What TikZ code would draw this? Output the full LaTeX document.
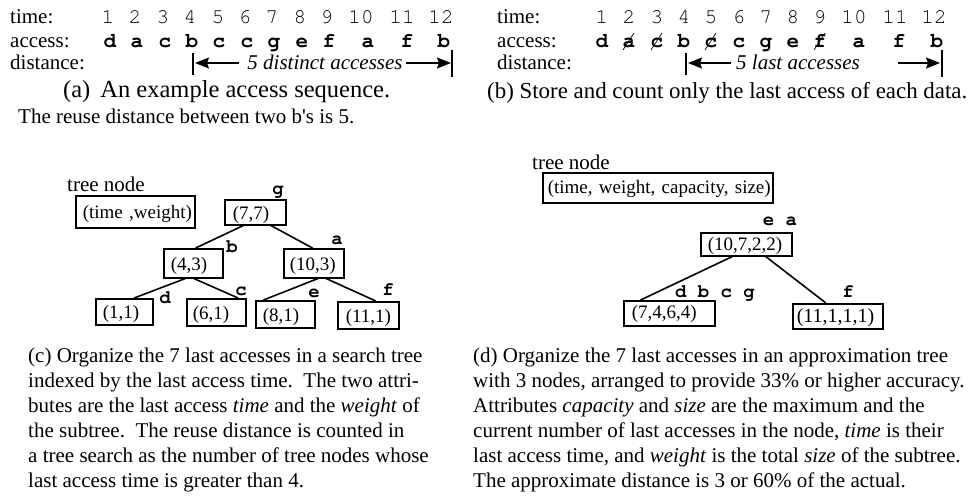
\documentclass[tikz,border=0pt]{standalone}
\usepackage{fontspec}
\setmainfont{Liberation Serif}
\newfontfamily\cur{TeX Gyre Cursor}
\usetikzlibrary{arrows.meta,calc}
\begin{document}
\begin{tikzpicture}[x=1pt,y=-1pt,
  lbl/.style={anchor=base west,inner sep=0pt,font=\fontsize{21}{25}\selectfont},
  dig/.style={anchor=base,inner sep=0pt,font=\cur\fontsize{21}{25}\selectfont},
  acc/.style={anchor=base,inner sep=0pt,font=\cur\bfseries\fontsize{21}{25}\selectfont},
  tlab/.style={anchor=base,inner sep=0pt,font=\cur\bfseries\fontsize{19}{22}\selectfont},
  tbox/.style={draw,line width=1.5pt,anchor=north west,align=left,inner xsep=0pt,inner ysep=0pt,font=\fontsize{19}{22}\selectfont},
  tedge/.style={line width=1.6pt},
  vbar/.style={line width=1.3pt},
  strk/.style={line width=0.7pt},
  darr/.style={line width=1.3pt,-{Stealth[length=14pt,width=11pt,inset=2pt]}},
  captxt/.style={anchor=base west,inner sep=0pt,font=\fontsize{21}{25}\selectfont},
  dtext/.style={anchor=base,inner sep=0pt,font=\itshape\fontsize{21}{25}\selectfont},
]
\useasboundingbox (0,0) rectangle (969,496);

% ---------- (a) ----------
\node[lbl] (timeA) at (10,23) {time:};
\node[lbl] (accA) at (10,47) {access:};
\node[lbl] (distA) at (10,69) {distance:};
\foreach \i/\x in {1/108,2/135,3/163,4/190,5/218,6/245,7/272,8/300,9/327,10/361,11/402,12/441}
  \node[dig] (ta\i) at (\x,23) {\i};
\foreach \i/\x/\c in {1/110/d,2/137/a,3/165/c,4/192/b,5/219/c,6/247/c,7/274/g,8/302/e,9/329/f,10/368/a,11/407/f,12/444/b}
  \node[acc] (aa\i) at (\x,47) {\c};
\node[dtext] (dA) at (325,69) {5 distinct accesses};
\coordinate (aL) at (195,63);
\coordinate (aLs) at (239,63);
\coordinate (aR) at (451,63);
\coordinate (aRs) at (406,63);
\coordinate (aLt) at (193,53); \coordinate (aLb) at (193,75);
\coordinate (aRt) at (452,50); \coordinate (aRb) at (452,77);
\draw[vbar] (aLt) -- (aLb);
\draw[vbar] (aRt) -- (aRb);
\draw[darr] (aLs) -- (aL);
\draw[darr] (aRs) -- (aR);
\node[captxt,font=\fontsize{24.5}{25}\selectfont] (capA1) at (63,97) {(a)\hspace{10pt}An example access sequence.};
\node[captxt] (capA2) at (18,123) {The reuse distance between two b\textquotesingle s is 5.};

% ---------- (b) ----------
\node[lbl] (timeB) at (497,23) {time:};
\node[lbl] (accB) at (497,47) {access:};
\node[lbl] (distB) at (497,69) {distance:};
\foreach \i/\x in {1/602,2/629,3/657,4/684,5/711,6/739,7/766,8/793,9/820,10/854,11/895,12/934}
  \node[dig] (tb\i) at (\x,23) {\i};
\foreach \i/\x/\c in {1/602/d,2/629/a,3/657/c,4/684/b,5/711/c,6/739/c,7/766/g,8/793/e,9/820/f,10/859/a,11/899/f,12/937/b}
  \node[acc] (ab\i) at (\x,47) {\c};
\foreach \i in {2,3,5,9}
  \draw[strk] ($(ab\i.base)+(-6,3)$) -- ($(ab\i.base)+(5,-14)$);
\node[dtext] (dB) at (798,69) {5 last accesses};
\coordinate (bL) at (688,63);
\coordinate (bLs) at (731,63);
\coordinate (bR) at (940,63);
\coordinate (bRs) at (898,63);
\coordinate (bLt) at (686,53); \coordinate (bLb) at (686,75);
\coordinate (bRt) at (942,50); \coordinate (bRb) at (942,77);
\draw[vbar] (bLt) -- (bLb);
\draw[vbar] (bRt) -- (bRb);
\draw[darr] (bLs) -- (bL);
\draw[darr] (bRs) -- (bR);
\node[captxt,font=\fontsize{22.9}{25}\selectfont] (capB) at (487,98) {(b) Store and count only the last access of each data.};

% ---------- (c) ----------
\node[lbl] (tnC) at (67,191) {tree node};
\node[tbox,text width=119pt,text height=23pt,text depth=9pt] (legC) at (75,195) {\hspace*{7pt}(time ,weight)};
\node[tbox,text width=61pt,text height=20pt,text depth=5pt] (n77) at (224,199) {\hspace*{8pt}(7,7)};
\node[tbox,text width=59pt,text height=22pt,text depth=7pt] (n43) at (163,248) {\hspace*{7pt}(4,3)};
\node[tbox,text width=60pt,text height=22pt,text depth=7pt] (n103) at (283,248) {\hspace*{6pt}(10,3)};
\node[tbox,text width=57pt,text height=20pt,text depth=6pt] (n11) at (95,298) {\hspace*{7pt}(1,1)};
\node[tbox,text width=59pt,text height=21pt,text depth=6pt] (n61) at (186,298) {\hspace*{6pt}(6,1)};
\node[tbox,text width=59pt,text height=21pt,text depth=6pt] (n81) at (255,300) {\hspace*{7pt}(8,1)};
\node[tbox,text width=61pt,text height=21pt,text depth=6pt] (n111) at (337,301) {\hspace*{8pt}(11,1)};
\node[tlab] (lg) at (278,194) {g};
\node[tlab] (lb) at (232,252) {b};
\node[tlab] (la) at (337,244) {a};
\node[tlab] (ld) at (165,303) {d};
\node[tlab] (lc) at (241,295) {c};
\node[tlab] (le) at (314,297) {e};
\node[tlab] (lf) at (388,295) {f};
\draw[tedge] ($(n77.south west)!0.31!(n77.south east)$) -- ($(n43.north west)!0.54!(n43.north east)$);
\draw[tedge] ($(n77.south west)!0.75!(n77.south east)$) -- ($(n103.north west)!0.48!(n103.north east)$);
\draw[tedge] ($(n43.south west)!0.37!(n43.south east)$) -- ($(n11.north west)!0.67!(n11.north east)$);
\draw[tedge] ($(n43.south west)!0.51!(n43.south east)$) -- ($(n61.north west)!0.86!(n61.north east)$);
\draw[tedge] ($(n103.south west)!0.57!(n103.south east)$) -- ($(n81.north west)!0.14!(n81.north east)$);
\draw[tedge] ($(n103.south west)!0.70!(n103.south east)$) -- ($(n111.north west)!0.62!(n111.north east)$);

\node[captxt] (c1) at (28,362) {(c) Organize the 7 last accesses in a search tree};
\node[captxt] (c2) at (28,387) {indexed by the last access time.\ \ The two attri-};
\node[captxt] (c3) at (28,412) {butes are the last access \textit{time} and the \textit{weight} of};
\node[captxt] (c4) at (28,437) {the subtree.\ \ The reuse distance is counted in};
\node[captxt] (c5) at (28,462) {a tree search as the number of tree nodes whose};
\node[captxt] (c6) at (28,487) {last access time is greater than 4.};

% ---------- (d) ----------
\node[lbl] (tnD) at (532,169) {tree node};
\node[tbox,text width=230pt,text height=21pt,text depth=9pt] (legD) at (542,172) {\hspace*{5pt}(time, weight, capacity, size)};
\node[tbox,text width=91pt,text height=18pt,text depth=5pt] (m1) at (700,232) {\hspace*{7pt}(10,7,2,2)};
\node[tbox,text width=91pt,text height=18pt,text depth=7pt] (m2) at (623,300) {\hspace*{8pt}(7,4,6,4)};
\node[tbox,text width=90pt,text height=19pt,text depth=6pt,font=\fontsize{20}{22}\selectfont] (m3) at (792,303) {\hspace*{4pt}(11,1,1,1)};
\node[tlab] (lea) at (780,225) {e a};
\node[tlab] (ldbcg) at (715,297) {d b c g};
\node[tlab] (lf2) at (848,297) {f};
\draw[tedge] ($(m1.south west)!0.35!(m1.south east)$) -- ($(m2.north west)!0.19!(m2.north east)$);
\draw[tedge] ($(m1.south west)!0.71!(m1.south east)$) -- ($(m3.north west)!0.37!(m3.north east)$);

\node[captxt] (d1) at (473,362) {(d) Organize the 7 last accesses in an approximation tree};
\node[captxt] (d2) at (473,387) {with 3 nodes, arranged to provide 33\% or higher accuracy.};
\node[captxt] (d3) at (473,412) {Attributes \textit{capacity} and \textit{size} are the maximum and the};
\node[captxt] (d4) at (473,437) {current number of last accesses in the node, \textit{time} is their};
\node[captxt] (d5) at (473,462) {last access time, and \textit{weight} is the total \textit{size} of the subtree.};
\node[captxt] (d6) at (473,487) {The approximate distance is 3 or 60\% of the actual.};
\end{tikzpicture}
\end{document}
